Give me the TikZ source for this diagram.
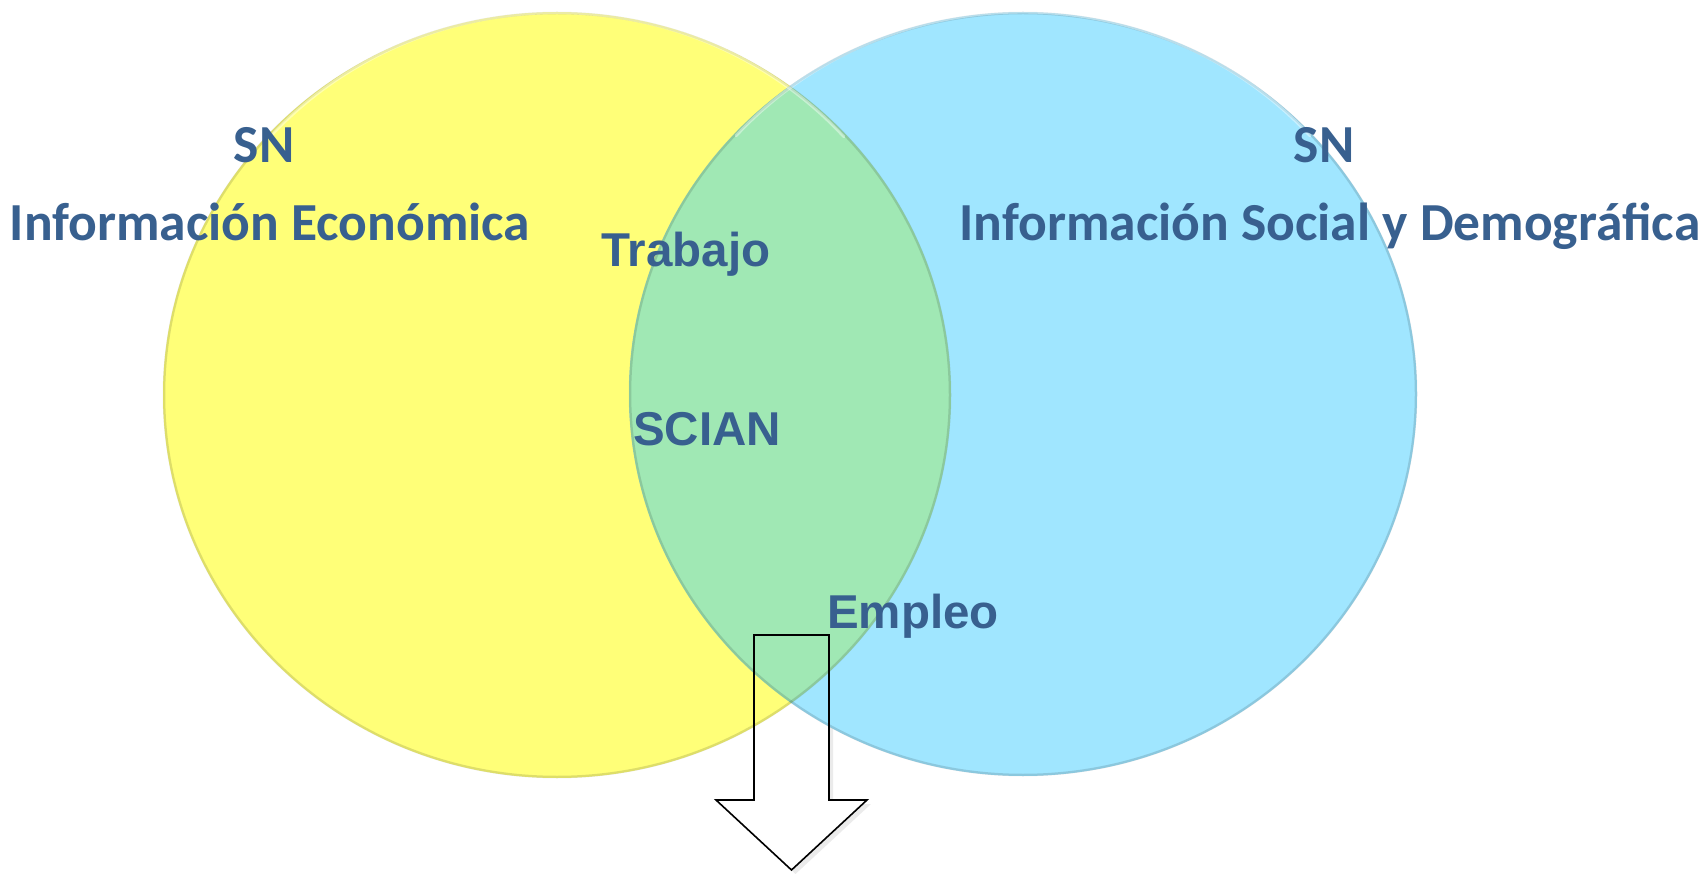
\documentclass[tikz,border=0pt]{standalone}
\usepackage{fontspec}
\newfontfamily\calfont{Carlito}
\newfontfamily\arifont{Liberation Sans}
\definecolor{txt}{HTML}{38608F}
\definecolor{yel}{HTML}{FFFF78}
\definecolor{cya}{HTML}{A0E6FF}
\definecolor{grn}{HTML}{A0E8B4}
\tikzset{
  caltext/.style={font=\calfont\bfseries\fontsize{53.5}{62}\selectfont, text=txt, inner sep=0pt, anchor=base},
  aritext/.style={font=\arifont\bfseries\fontsize{47.5}{56}\selectfont, text=txt, inner sep=0pt, anchor=base},
  rim/.style={draw=black, draw opacity=0.13, line width=2.5pt},
  shine/.style={draw=white, draw opacity=0.4, line width=3pt, line cap=round},
  arrowshape/.style={draw=black, line width=1.6pt, line join=miter},
}
\begin{document}
\begin{tikzpicture}[x=1pt,y=-1pt]
\useasboundingbox (0,0) rectangle (1706,874);
\fill[white] (0,0) rectangle (1706,874);
\coordinate (L) at (557,395);
\coordinate (R) at (1023,394);
% arrow shadow (under the circles)
\coordinate (a1) at (754,635);
\coordinate (a2) at (829,635);
\coordinate (a3) at (829,800);
\coordinate (a4) at (867,800);
\coordinate (a5) at (791.5,870);
\coordinate (a6) at (716,800);
\coordinate (a7) at (754,800);
\fill[black, opacity=0.08] ([shift={(4,4)}]a1) -- ([shift={(4,4)}]a2) -- ([shift={(4,4)}]a3) -- ([shift={(4,4)}]a4) -- ([shift={(4,4)}]a5) -- ([shift={(4,4)}]a6) -- ([shift={(4,4)}]a7) -- cycle;
\fill[white] (a1) -- (a2) -- (a3) -- (a4) -- (a5) -- (a6) -- (a7) -- cycle;
% circles
\fill[yel] (L) ellipse[x radius=394, y radius=383];
\fill[cya] (R) ellipse[x radius=394, y radius=382];
\begin{scope}
  \clip (L) ellipse[x radius=394, y radius=383];
  \fill[grn] (R) ellipse[x radius=394, y radius=382];
\end{scope}
\draw[rim] (L) ellipse[x radius=393, y radius=382];
\draw[rim] (R) ellipse[x radius=393, y radius=381];
\draw[shine] (L) ++(222:{386}) arc[start angle=222, end angle=318, x radius=386, y radius=375];
\draw[shine] (R) ++(222:{386}) arc[start angle=222, end angle=318, x radius=386, y radius=374];
% labels
\node[caltext] (sn1) at (264,163) {SN};
\node[caltext] (ie) at (270,241) {Información Económica};
\node[caltext] (sn2) at (1324,163) {SN};
\node[caltext] (isd) at (1330,241) {Información Social y Demográfica};
\node[aritext] (trab) at (686,267) {Trabajo};
\node[aritext] (scian) at (707,446) {SCIAN};
\node[aritext] (emp) at (913,628) {Empleo};
% arrow outline
\draw[arrowshape] (a1) -- (a2) -- (a3) -- (a4) -- (a5) -- (a6) -- (a7) -- cycle;
\end{tikzpicture}
\end{document}
